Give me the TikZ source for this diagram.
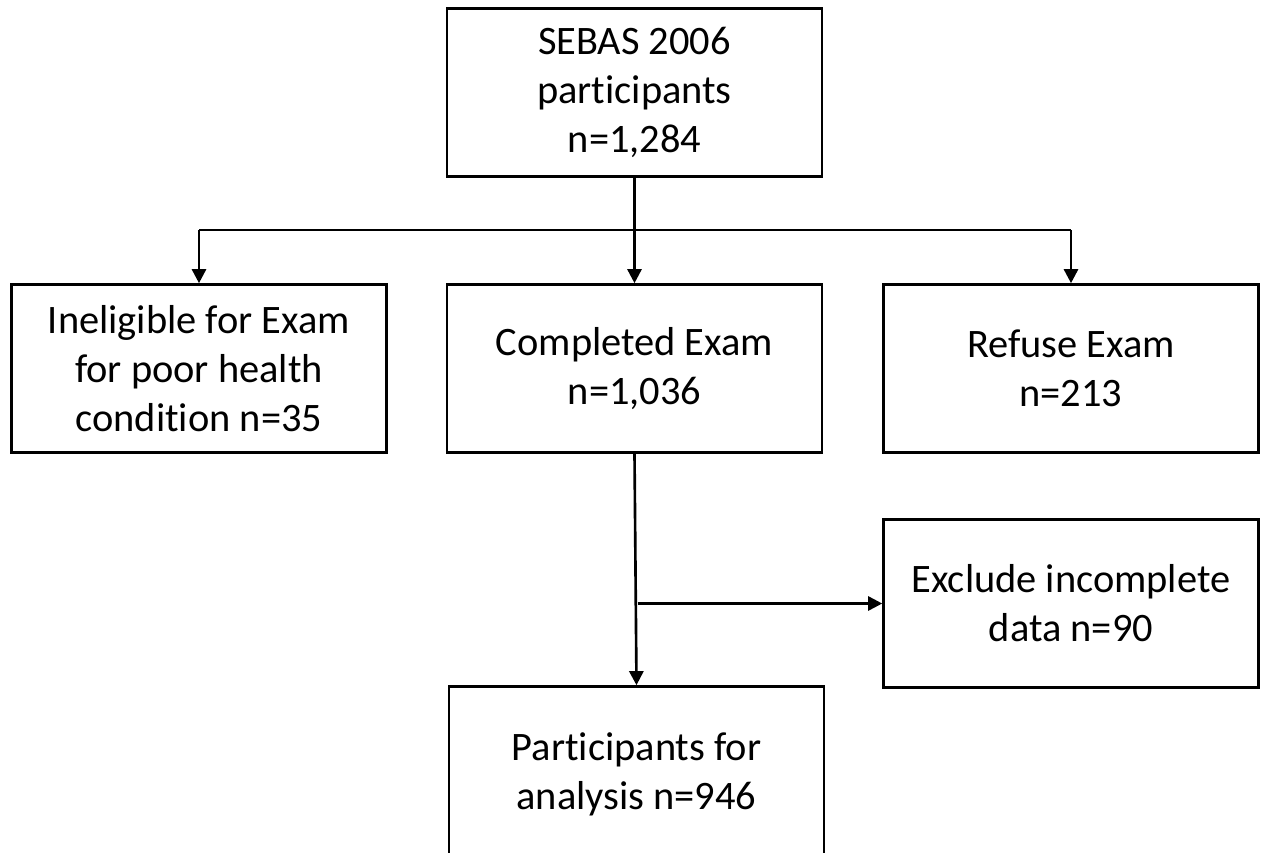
\documentclass[tikz,border=0pt]{standalone}
\usepackage{fontspec}
\setmainfont{Carlito}[Ligatures={NoCommon}]
\usetikzlibrary{arrows.meta}
\tikzset{
  flowbox/.style={draw, line width=1.5pt, fill=white, rectangle, align=center, inner sep=0pt,
    minimum width=7.5cm, minimum height=3.36cm,
    font=\fontsize{23pt}{28pt}\selectfont},
  flowarrow/.style={line width=1.5pt, -{Triangle[length=8pt,width=8pt]}},
  flowline/.style={line width=1.5pt}
}

\begin{document}
\begin{tikzpicture}[x=0.02cm, y=-0.02cm]%
\clip (0,0) rectangle (1264,852);%
\node[flowbox] (sebas) at (634.5, 92.5) {SEBAS 2006\\participants\\n=1,284};%
\node[flowbox] (ineligible) at (199, 368.5) {Ineligible for Exam\\for poor health\\condition n=35};%
\node[flowbox] (completed) at (634.5, 368.5) {Completed Exam\\n=1,036};%
\node[flowbox] (refuse) at (1071, 368.5) {Refuse Exam\\n=213};%
\node[flowbox] (exclude) at (1071, 603.5) {Exclude incomplete\\data n=90};%
\node[flowbox, minimum height=3.5cm] (analysis) at (636.5, 774) {Participants for\\analysis n=946};%
\coordinate (split) at (634.5, 230);%
\coordinate (branch) at (637.5, 603.5);%
\draw[flowline] (sebas.south) -- (split);%
\draw[flowline] (ineligible.north |- split) -- (refuse.north |- split);%
\draw[flowarrow] (ineligible.north |- split) -- (ineligible.north);%
\draw[flowarrow] (split) -- (completed.north);%
\draw[flowarrow] (refuse.north |- split) -- (refuse.north);%
\draw[flowarrow] (completed.south) -- (analysis.north);%
\draw[flowarrow] (branch) -- (exclude.west);%
\end{tikzpicture}
\end{document}
